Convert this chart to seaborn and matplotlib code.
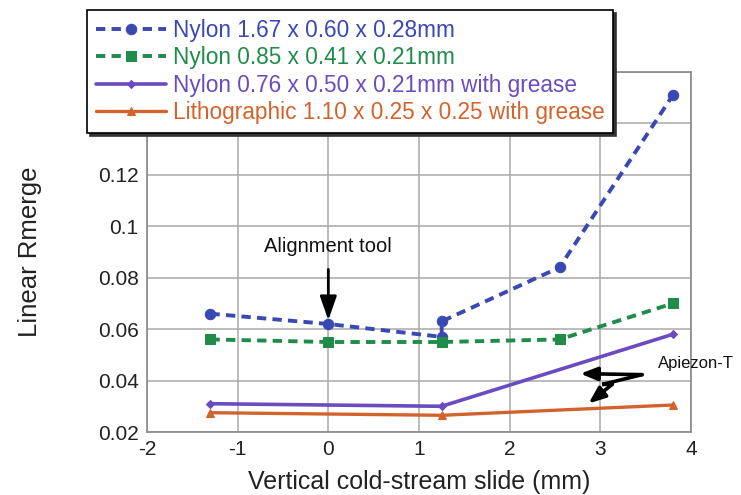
import matplotlib
matplotlib.use("Agg")
import matplotlib.pyplot as plt
import seaborn as sns
from matplotlib.ticker import MultipleLocator, FuncFormatter

# Linear Rmerge versus vertical cold-stream slide for each mount
slide_nylon167 = [-1.3, 0.0, 1.25, 1.25, 2.55, 3.8]
rmerge_nylon167 = [0.066, 0.062, 0.057, 0.063, 0.084, 0.151]

slide_nylon085 = [-1.3, 0.0, 1.25, 2.55, 3.8]
rmerge_nylon085 = [0.056, 0.055, 0.055, 0.056, 0.070]

slide_nylon076 = [-1.3, 1.25, 3.8]
rmerge_nylon076 = [0.031, 0.030, 0.058]

slide_litho = [-1.3, 1.25, 3.8]
rmerge_litho = [0.0275, 0.0265, 0.0305]

series_labels = [
    "Nylon 1.67 x 0.60 x 0.28mm",
    "Nylon 0.85 x 0.41 x 0.21mm",
    "Nylon 0.76 x 0.50 x 0.21mm with grease",
    "Lithographic 1.10 x 0.25 x 0.25 with grease",
]

x_ticks = [-2, -1, 0, 1, 2, 3, 4]
y_ticks = [0.02, 0.04, 0.06, 0.08, 0.1, 0.12, 0.14, 0.16]

sns.set_style("white")
plt.rcParams["font.family"] = ["Liberation Sans", "DejaVu Sans"]
plt.rcParams["axes.unicode_minus"] = False

W, H = 741, 495
fig = plt.figure(figsize=(W / 100, H / 100), dpi=100)
ax = fig.add_axes([147 / W, 63 / H, 544 / W, 360 / H])

styles = [
    dict(color="#3a48b4", marker="o", ms=7.5, ls=(0, (2.4, 1.6)), lw=2.8),
    dict(color="#1f8c4a", marker="s", ms=6.5, ls=(0, (2.4, 1.6)), lw=2.8),
    dict(color="#6b4cc0", marker="D", ms=4.5, ls="-", lw=2.6),
    dict(color="#d3632c", marker="^", ms=6, ls="-", lw=2.4),
]
data = [
    (slide_nylon167, rmerge_nylon167),
    (slide_nylon085, rmerge_nylon085),
    (slide_nylon076, rmerge_nylon076),
    (slide_litho, rmerge_litho),
]

for (xs, ys), lab, st in zip(data, series_labels, styles):
    sns.lineplot(
        x=xs, y=ys, ax=ax, sort=False, estimator=None,
        color=st["color"], marker=st["marker"], markersize=st["ms"],
        markeredgecolor=st["color"], markerfacecolor=st["color"],
        linestyle=st["ls"], linewidth=st["lw"], label=lab, zorder=3,
    )

ax.set_xlim(-2, 4)
ax.set_ylim(0.02, 0.16)
ax.set_xticks(x_ticks)
ax.set_yticks(y_ticks)
ax.xaxis.set_minor_locator(MultipleLocator(0.25))
ax.yaxis.set_minor_locator(MultipleLocator(0.005))
ax.yaxis.set_major_formatter(FuncFormatter(lambda v, p: f"{v:g}"))
ax.tick_params(which="both", direction="in", colors="#666666",
               labelcolor="#222222", labelsize=15)
ax.tick_params(which="major", length=7, width=1, pad=6)
ax.tick_params(which="minor", length=4, width=1)
ax.grid(True, which="major", color="#aaaaaa", linewidth=1.1)
ax.set_axisbelow(True)
for sp in ax.spines.values():
    sp.set_color("#888888")
    sp.set_linewidth(1.2)

ax.set_xlabel("Vertical cold-stream slide (mm)", fontsize=18, color="#222222")
ax.set_ylabel("Linear Rmerge", fontsize=18.5, color="#222222")
ax.xaxis.set_label_coords(0.5, -0.105)
ax.yaxis.set_label_coords(-0.193, 0.5)

# Alignment tool callout
ax.annotate(
    "Alignment tool", xy=(0.0, 0.0635), xytext=(0.0, 0.092),
    ha="center", va="center", fontsize=14.5, color="#111111",
    arrowprops=dict(arrowstyle="-|>,head_length=1.0,head_width=0.35",
                    color="black", lw=2, shrinkA=7, shrinkB=0),
)

# Apiezon-T lightning-bolt pointer
ax.text(3.64, 0.0466, "Apiezon-T", fontsize=12, color="#111111",
        va="center", ha="left")
bolt_x = [3.46, 3.02, 3.13]
bolt_y = [0.0423, 0.0385, 0.0385]
ax.plot(bolt_x, bolt_y, color="black", lw=2.6, solid_joinstyle="miter", zorder=4)
ax.annotate("", xy=(2.78, 0.0427), xytext=(3.46, 0.0423),
            arrowprops=dict(arrowstyle="-|>,head_length=1.0,head_width=0.4",
                            color="black", lw=2.6, shrinkA=0, shrinkB=0))
ax.annotate("", xy=(2.87, 0.0311), xytext=(3.13, 0.0385),
            arrowprops=dict(arrowstyle="-|>,head_length=1.0,head_width=0.4",
                            color="black", lw=2.6, shrinkA=0, shrinkB=0))

handles, labels = ax.get_legend_handles_labels()
ax.get_legend().remove()
leg = fig.legend(
    handles, labels, loc="upper left", bbox_to_anchor=(87 / W, 1 - 10 / H),
    borderaxespad=0, fontsize=16.3, frameon=True, fancybox=False,
    shadow={"color": "#333333", "alpha": 1.0},
    handlelength=3.1, handletextpad=0.3, labelspacing=0.2, borderpad=0.38,
)
leg.set_zorder(10)
frame = leg.get_frame()
frame.set_edgecolor("black")
frame.set_linewidth(1.2)
frame.set_facecolor("white")
for txt, st in zip(leg.get_texts(), styles):
    txt.set_color(st["color"])

fig.savefig("out.png", dpi=100)
